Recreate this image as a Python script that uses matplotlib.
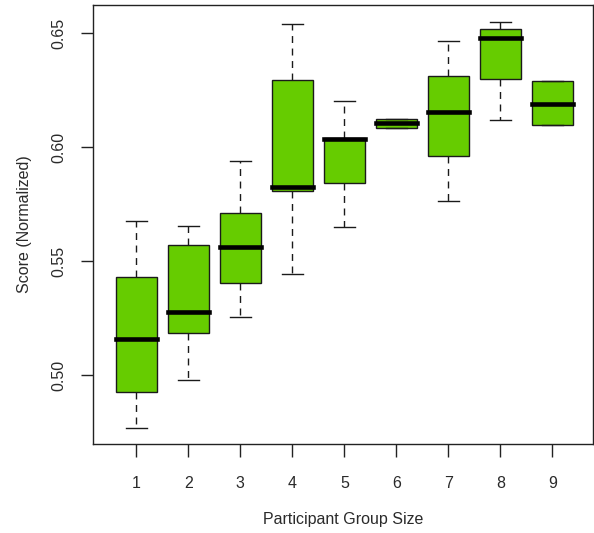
import matplotlib
matplotlib.use("Agg")
import matplotlib.pyplot as plt

# Values
group_sizes = [1, 2, 3, 4, 5, 6, 7, 8, 9]
whisker_low = [0.4767, 0.4979, 0.5254, 0.5446, 0.5650, 0.6086, 0.5763, 0.6118, 0.6096]
q1 = [0.4925, 0.5184, 0.5406, 0.5810, 0.5842, 0.6086, 0.5960, 0.6301, 0.6096]
medians = [0.5158, 0.5276, 0.5564, 0.5827, 0.6037, 0.6105, 0.6156, 0.6481, 0.6190]
q3 = [0.5433, 0.5571, 0.5711, 0.6294, 0.6042, 0.6124, 0.6314, 0.6518, 0.6289]
whisker_high = [0.5677, 0.5656, 0.5940, 0.6539, 0.6203, 0.6124, 0.6465, 0.6551, 0.6289]

y_ticks = [0.50, 0.55, 0.60, 0.65]
y_tick_labels = ["0.50", "0.55", "0.60", "0.65"]

plt.rcParams["font.family"] = ["Liberation Sans", "DejaVu Sans"]

stats = []
for i in range(len(group_sizes)):
    stats.append({
        "whislo": whisker_low[i],
        "q1": q1[i],
        "med": medians[i],
        "q3": q3[i],
        "whishi": whisker_high[i],
        "fliers": [],
    })

fig = plt.figure(figsize=(5.94, 5.33), dpi=100)
ax = fig.add_axes([0.1566, 0.167, 0.8414, 0.8236])

ax.bxp(
    stats,
    positions=group_sizes,
    widths=0.8,
    patch_artist=True,
    boxprops=dict(facecolor="#66CC00", edgecolor="#1a1a1a", linewidth=1.0),
    medianprops=dict(color="black", linewidth=3.3, solid_capstyle="projecting"),
    whiskerprops=dict(color="#1a1a1a", linewidth=1.0, linestyle=(0, (5, 4))),
    capprops=dict(color="#1a1a1a", linewidth=1.0),
    capwidths=0.4,
    manage_ticks=False,
)

ax.set_xlim(0.167, 9.775)
ax.set_ylim(0.4699, 0.6624)

ax.set_xticks(group_sizes)
ax.set_xticklabels([str(g) for g in group_sizes], fontsize=11.5, color="#2a2a2a")
ax.set_yticks(y_ticks)
ax.set_yticklabels(y_tick_labels, fontsize=11.5, color="#2a2a2a", rotation=90, va="center")
ax.tick_params(axis="both", length=9, width=1.0, color="#222222", direction="out")
ax.tick_params(axis="x", pad=14)
ax.tick_params(axis="y", pad=10)

ax.set_xlabel("Participant Group Size", fontsize=11.5, color="#2a2a2a", labelpad=15)
ax.set_ylabel("Score (Normalized)", fontsize=11.5, color="#2a2a2a", labelpad=14)

for spine in ax.spines.values():
    spine.set_edgecolor("#222222")
    spine.set_linewidth(1.0)

plt.savefig("out.png", dpi=100)
plt.close()
